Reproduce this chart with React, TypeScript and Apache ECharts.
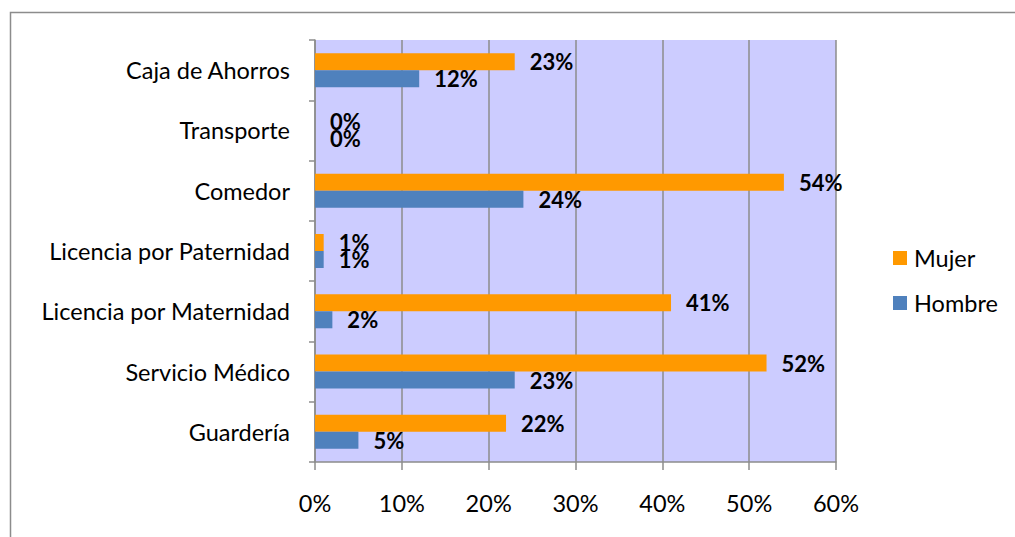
import React, { useEffect, useRef } from "react";
import * as echarts from "echarts";

const categories = [
  "Guardería",
  "Servicio Médico",
  "Licencia por Maternidad",
  "Licencia por Paternidad",
  "Comedor",
  "Transporte",
  "Caja de Ahorros",
];
const mujer = [22, 52, 41, 1, 54, 0, 23];
const hombre = [5, 23, 2, 1, 24, 0, 12];
const xTicks = [0, 10, 20, 30, 40, 50, 60];

const FONT = "Lato";
const FS = 23.5;

export default function App() {
  const ref = useRef<HTMLDivElement>(null);
  useEffect(() => {
    if (!ref.current) return;
    const chart = echarts.init(ref.current, null, { renderer: "svg" });
    const label = {
      show: true,
      position: "right",
      distance: 15,
      formatter: (p: any) => p.value + "%",
      fontFamily: FONT,
      fontWeight: "bold",
      fontSize: 22,
      color: "#000",
    };
    chart.setOption({
      animation: false,
      backgroundColor: "#fff",
      textStyle: { fontFamily: FONT },
      graphic: [
        {
          type: "rect",
          shape: { x: 10.5, y: 12.5, width: 1100, height: 600 },
          style: { fill: "none", stroke: "#8c8c8c", lineWidth: 1.5 },
          silent: true,
          z: 100,
        },
      ],
      grid: {
        left: 315,
        right: 179,
        top: 40,
        bottom: 75,
        show: true,
        backgroundColor: "#CCCCFF",
        borderWidth: 0,
      },
      legend: {
        data: ["Mujer", "Hombre"],
        orient: "vertical",
        left: 893,
        top: 246,
        padding: 0,
        itemWidth: 14,
        itemHeight: 14,
        itemGap: 21,
        icon: "rect",
        textStyle: { fontFamily: FONT, fontSize: FS, color: "#000", padding: [0, 0, 0, 2] },
      },
      xAxis: {
        type: "value",
        min: xTicks[0],
        max: xTicks[xTicks.length - 1],
        interval: 10,
        axisLine: { show: true, lineStyle: { color: "#8c8c8c", width: 1.5 } },
        axisTick: { show: true, length: 8, lineStyle: { color: "#8c8c8c", width: 1.5 } },
        splitLine: { show: true, lineStyle: { color: "#8c8c8c", width: 1.5 } },
        axisLabel: {
          formatter: (v: number) => v + "%",
          fontFamily: FONT,
          fontSize: FS,
          color: "#000",
          margin: 29,
        },
      },
      yAxis: {
        type: "category",
        data: categories,
        axisLine: { show: true, lineStyle: { color: "#8c8c8c", width: 1.5 } },
        axisTick: { show: true, length: 6, lineStyle: { color: "#8c8c8c", width: 1.5 } },
        axisLabel: { fontFamily: FONT, fontSize: FS, color: "#000", margin: 25 },
      },
      series: [
        {
          name: "Mujer",
          type: "bar",
          data: mujer,
          barWidth: 17,
          barGap: "0%",
          itemStyle: { color: "#FF9900" },
          label,
        },
        {
          name: "Hombre",
          type: "bar",
          data: hombre,
          barWidth: 17,
          barGap: "0%",
          itemStyle: { color: "#4F81BD" },
          label,
        },
      ],
    });
    return () => chart.dispose();
  }, []);
  return (
    <div
      ref={ref}
      style={{ position: "fixed", left: 0, top: 0, width: 1015, height: 537 }}
    />
  );
}
